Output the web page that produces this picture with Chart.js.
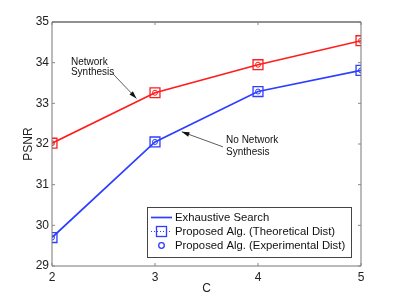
<!DOCTYPE html>
<html lang="en">
<head>
    <meta charset="UTF-8">
    <title>PSNR vs C</title>
    <script src="https://cdn.jsdelivr.net/npm/chart.js"></script>
    <style>
        html, body { margin: 0; padding: 0; background: #fff; }
    </style>
</head>
<body>
    <canvas id="psnrChart" width="399" height="299"></canvas>
    <script>
        // values
        const cValues = [2, 3, 4, 5];
        const networkSynthesis = [32.02, 33.26, 33.95, 34.54];   // red
        const noNetworkSynthesis = [29.70, 32.05, 33.29, 33.81]; // blue
        const xTicks = [2, 3, 4, 5];
        const yTicks = [29, 30, 31, 32, 33, 34, 35];
        const legendLabels = ['Exhaustive Search', 'Proposed Alg. (Theoretical Dist)', 'Proposed Alg. (Experimental Dist)'];

        const RED = 'rgb(255,28,28)';
        const BLUE = 'rgb(45,62,255)';
        const FONT = '"Liberation Sans", Arial, sans-serif';

        const pts = arr => arr.map((v, i) => ({ x: cValues[i], y: v }));

        function seriesSet(values, color) {
            return [
                { data: pts(values), borderColor: color, borderWidth: 1.7, pointRadius: 0, showLine: true },
                { data: pts(values), borderColor: color, borderWidth: 1, borderDash: [1, 2], showLine: false,
                  pointStyle: 'rect', pointRadius: 7, pointBorderWidth: 1.3, pointBackgroundColor: 'rgba(0,0,0,0)', pointBorderColor: color },
                { data: pts(values), showLine: false, pointStyle: 'circle', pointRadius: 2.5,
                  pointBorderWidth: 1, pointBackgroundColor: 'rgba(0,0,0,0)', pointBorderColor: color }
            ];
        }

        // box, inward ticks, legend and the two text notes
        const extras = {
            id: 'extras',
            afterDraw(chart) {
                const ctx = chart.ctx;
                const a = chart.chartArea;
                const xs = chart.scales.x, ys = chart.scales.y;
                ctx.save();
                // frame
                ctx.lineWidth = 1;
                ctx.strokeStyle = '#777';
                ctx.beginPath();
                ctx.moveTo(a.left, a.top); ctx.lineTo(a.left, a.bottom); ctx.lineTo(a.right, a.bottom); ctx.lineTo(a.right, a.top);
                ctx.stroke();
                ctx.strokeStyle = '#222';
                ctx.beginPath(); ctx.moveTo(a.left, a.top); ctx.lineTo(a.right, a.top); ctx.stroke();
                // inward ticks
                ctx.strokeStyle = '#888';
                ctx.beginPath();
                xTicks.forEach(t => {
                    const px = xs.getPixelForValue(t);
                    ctx.moveTo(px, a.bottom); ctx.lineTo(px, a.bottom - 3);
                    ctx.moveTo(px, a.top); ctx.lineTo(px, a.top + 3);
                });
                yTicks.forEach(t => {
                    const py = ys.getPixelForValue(t);
                    ctx.moveTo(a.left, py); ctx.lineTo(a.left + 3, py);
                    ctx.moveTo(a.right, py); ctx.lineTo(a.right - 3, py);
                });
                ctx.stroke();

                // annotations (data coords)
                ctx.fillStyle = '#111';
                ctx.font = '10px ' + FONT;
                ctx.textBaseline = 'middle';
                ctx.textAlign = 'left';
                const P = (x, y) => [xs.getPixelForValue(x), ys.getPixelForValue(y)];
                let p = P(2.184, 34.02); ctx.fillText('Network', p[0], p[1]);
                p = P(2.184, 33.76); ctx.fillText('Synthesis', p[0], p[1]);
                p = P(3.69, 32.08); ctx.fillText('No Network', p[0], p[1]);
                p = P(3.69, 31.79); ctx.fillText('Synthesis', p[0], p[1]);
                function arrow(x1, y1, x2, y2) {
                    const [ax, ay] = P(x1, y1), [bx, by] = P(x2, y2);
                    ctx.strokeStyle = '#333';
                    ctx.lineWidth = 0.8;
                    ctx.beginPath(); ctx.moveTo(ax, ay); ctx.lineTo(bx, by); ctx.stroke();
                    const ang = Math.atan2(by - ay, bx - ax);
                    ctx.fillStyle = '#111';
                    ctx.beginPath();
                    ctx.moveTo(bx, by);
                    ctx.lineTo(bx - 8 * Math.cos(ang - 0.3), by - 8 * Math.sin(ang - 0.3));
                    ctx.lineTo(bx - 8 * Math.cos(ang + 0.3), by - 8 * Math.sin(ang + 0.3));
                    ctx.closePath(); ctx.fill();
                }
                arrow(2.59, 33.73, 2.82, 33.12);
                arrow(3.66, 31.93, 3.26, 32.30);

                // legend box
                const lx = 147, ly = 207, lw = 204, lh = 50;
                ctx.fillStyle = '#fff';
                ctx.fillRect(lx, ly, lw, lh);
                ctx.strokeStyle = '#444';
                ctx.lineWidth = 1;
                ctx.strokeRect(lx + 0.5, ly + 0.5, lw, lh);
                ctx.font = '11.3px ' + FONT;
                ctx.fillStyle = '#111';
                const rows = [ly + 10.5, ly + 24.5, ly + 38.5];
                // row 1: solid line
                ctx.strokeStyle = BLUE; ctx.lineWidth = 1.7;
                ctx.beginPath(); ctx.moveTo(lx + 4, rows[0]); ctx.lineTo(lx + 25, rows[0]); ctx.stroke();
                // row 2: dotted line and square
                ctx.lineWidth = 1; ctx.setLineDash([1, 2]);
                ctx.beginPath(); ctx.moveTo(lx + 4, rows[1]); ctx.lineTo(lx + 25, rows[1]); ctx.stroke();
                ctx.setLineDash([]); ctx.lineWidth = 1.3;
                ctx.strokeRect(lx + 9.5, rows[1] - 5, 10, 10);
                // row 3: circle
                ctx.lineWidth = 1.3;
                ctx.beginPath(); ctx.arc(lx + 14.5, rows[2], 2.8, 0, Math.PI * 2); ctx.stroke();
                legendLabels.forEach((t, i) => ctx.fillText(t, lx + 28, rows[i] + 0.5));
                ctx.restore();
            }
        };

        new Chart(document.getElementById('psnrChart').getContext('2d'), {
            type: 'scatter',
            data: { datasets: [...seriesSet(networkSynthesis, RED), ...seriesSet(noNetworkSynthesis, BLUE)] },
            options: {
                responsive: false,
                animation: false,
                layout: { padding: { left: 0, top: 22, right: 38, bottom: 0 } },
                plugins: { legend: { display: false }, tooltip: { enabled: false } },
                scales: {
                    x: {
                        type: 'linear', min: 2, max: 5,
                        afterBuildTicks: s => { s.ticks = xTicks.map(v => ({ value: v })); },
                        afterFit: s => { s.height = 33; },
                        grid: { display: false, drawTicks: false },
                        border: { display: false },
                        ticks: { color: '#222', font: { family: FONT, size: 12 }, padding: 4 },
                        title: { display: true, text: 'C', color: '#222', font: { family: FONT, size: 12 }, padding: { top: 0, bottom: 3 } }
                    },
                    y: {
                        min: 29, max: 35,
                        afterBuildTicks: s => { s.ticks = yTicks.map(v => ({ value: v })); },
                        afterFit: s => { s.width = 52; },
                        grid: { display: false, drawTicks: false },
                        border: { display: false },
                        ticks: { color: '#222', font: { family: FONT, size: 12 }, padding: 3 },
                        title: { display: true, text: 'PSNR', color: '#222', font: { family: FONT, size: 12 }, padding: { top: 21, bottom: 0 } }
                    }
                }
            },
            plugins: [extras]
        });
    </script>
</body>
</html>
